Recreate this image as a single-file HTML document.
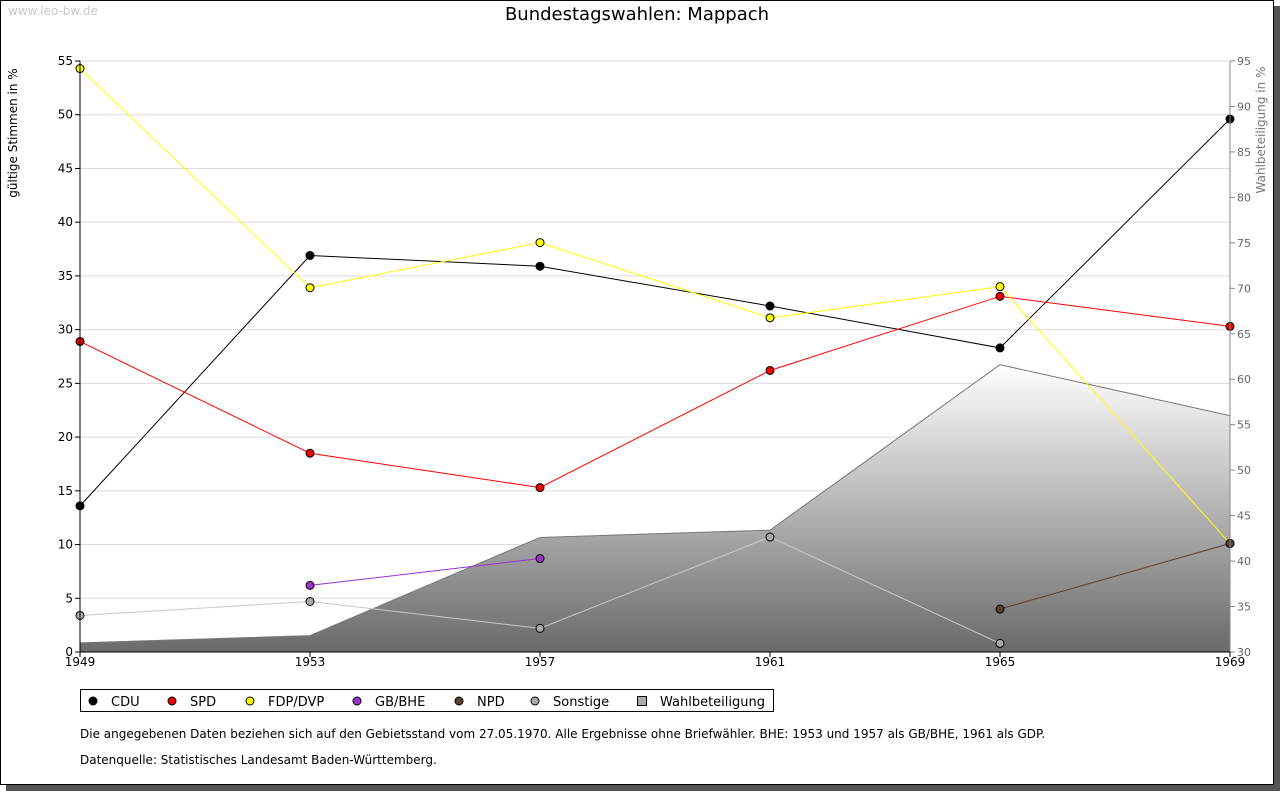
<!DOCTYPE html>
<html><head><meta charset="utf-8"><style>
html,body{margin:0;padding:0;background:#fff;}
body{width:1280px;height:791px;overflow:hidden;font-family:"DejaVu Sans","Liberation Sans",sans-serif;}
</style></head><body>
<svg id="chart" width="1280" height="791" xmlns="http://www.w3.org/2000/svg" font-family="DejaVu Sans, Liberation Sans, sans-serif">
<defs>
<linearGradient id="wg" x1="0" y1="0" x2="0" y2="1">
<stop offset="0" stop-color="#ffffff"/><stop offset="1" stop-color="#6a6a6a"/>
</linearGradient>
</defs>
<rect x="6" y="6" width="1274" height="785" fill="#555"/>
<rect x="0.5" y="0.5" width="1273" height="784" fill="#fff" stroke="#000"/>
<text x="8" y="15" font-size="12" fill="#c8c8c8">www.leo-bw.de</text>
<text x="637" y="20" font-size="18" text-anchor="middle" fill="#000">Bundestagswahlen: Mappach</text>
<text transform="translate(17,133) rotate(-90)" font-size="12" text-anchor="middle">gültige Stimmen in %</text>
<text transform="translate(1265,130) rotate(-90)" font-size="12" text-anchor="middle" fill="#777">Wahlbeteiligung in %</text>
<g id="grid"></g><g id="area"></g><g id="lines"></g><g id="axes"></g>
<g>
<rect x="80.5" y="689.5" width="693" height="22" fill="#fff" stroke="#000"/>
<g id="legend"></g>
</g>
<text x="80" y="738" font-size="12">Die angegebenen Daten beziehen sich auf den Gebietsstand vom 27.05.1970. Alle Ergebnisse ohne Briefwähler. BHE: 1953 und 1957 als GB/BHE, 1961 als GDP.</text>
<text x="80" y="764" font-size="12">Datenquelle: Statistisches Landesamt Baden-Württemberg.</text>
</svg>
<script>
const years=[1949,1953,1957,1961,1965,1969];
const cdu=[13.6,36.9,35.9,32.2,28.3,49.6];
const spd=[28.9,18.5,15.3,26.2,33.1,30.3];
const fdp=[54.3,33.9,38.1,31.1,34.0,10.1];
const gbbhe=[null,6.2,8.7,null,null,null];
const npd=[null,null,null,null,4.0,10.1];
const sonstige=[3.4,4.7,2.2,10.7,0.8,null];
const turnout=[31.0,31.8,42.6,43.4,61.6,56.0];
const leftTicks=[0,5,10,15,20,25,30,35,40,45,50,55];
const rightTicks=[30,35,40,45,50,55,60,65,70,75,80,85,90,95];
const NS="http://www.w3.org/2000/svg";
const X0=80,X1=1230,Y0=652,Y1=61;
const xs=i=>X0+(X1-X0)*i/(years.length-1);
const yl=v=>Y0-(Y0-Y1)*v/55;
const yr=v=>Y0-(Y0-Y1)*(v-30)/65;
function mk(t,a,p){const e=document.createElementNS(NS,t);for(const k in a)e.setAttribute(k,a[k]);p.appendChild(e);return e;}
const grid=document.getElementById('grid'),axes=document.getElementById('axes');
leftTicks.forEach(v=>{
 if(v>0){const g=mk('line',{x1:X0,x2:X1,y1:yl(v),y2:yl(v),stroke:'#dcdcdc'},grid);
 
 }
 mk('line',{x1:X0-5,x2:X0,y1:yl(v),y2:yl(v),stroke:'#000'},axes);
 const t=mk('text',{x:X0-7,y:yl(v)+4,'font-size':12,'text-anchor':'end'},axes);t.textContent=v;
 
 
});
rightTicks.forEach(v=>{
 mk('line',{x1:X1,x2:X1+5,y1:yr(v),y2:yr(v),stroke:'#888'},axes);
 const t=mk('text',{x:X1+7,y:yr(v)+4,'font-size':11,fill:'#666'},axes);t.textContent=v;
 
 
});
mk('line',{x1:X0,x2:X0,y1:Y1,y2:Y0,stroke:'#000'},axes);
mk('line',{x1:X1,x2:X1,y1:Y1,y2:Y0,stroke:'#888'},axes);
mk('line',{x1:X0,x2:X1,y1:Y0,y2:Y0,stroke:'#000'},axes);
years.forEach((yv,i)=>{
 mk('line',{x1:xs(i),x2:xs(i),y1:Y0,y2:Y0+5,stroke:'#000'},axes);
 const t=mk('text',{x:xs(i),y:Y0+14,'font-size':12,'text-anchor':'middle'},axes);t.textContent=yv;
 
 
});
let d='M'+xs(0)+','+Y0;
turnout.forEach((v,i)=>{d+=' L'+xs(i)+','+yr(v);});
d+=' L'+xs(turnout.length-1)+','+Y0+' Z';
const ar=mk('path',{d:d,fill:'url(#wg)',stroke:'#777'},document.getElementById('area'));


const series=[['cdu',cdu,'#000','#000'],['spd',spd,'#ff0000','#ee0000'],['fdp-dvp',fdp,'#ffff00','#ffff00'],['gb-bhe',gbbhe,'#9933cc','#9933cc'],['npd',npd,'#5a4030','#5a4030'],['sonstige',sonstige,'#c8c8c8','#aaaaaa']];
const lg=document.getElementById('lines');
series.forEach(([n,vals,lc,fc])=>{
 let pts=[];vals.forEach((v,i)=>{if(v!=null)pts.push(xs(i)+','+yl(v));});
 const pl=mk('polyline',{points:pts.join(' '),fill:'none',stroke:lc,'stroke-width':1},lg);
 
 
 vals.forEach((v,i)=>{if(v==null)return;
  const c=mk('circle',{cx:xs(i),cy:yl(v),r:4,fill:fc,stroke:'#000','stroke-width':1},lg);
  
  
 });
});
const legendItems=[['CDU','#000',93,'circle'],['SPD','#ee0000',172,'circle'],['FDP/DVP','#ffff00',250,'circle'],['GB/BHE','#9933cc',357,'circle'],['NPD','#5a4030',459,'circle'],['Sonstige','#aaaaaa',535,'circle'],['Wahlbeteiligung','#aaaaaa',642,'rect']];
const L=document.getElementById('legend');
legendItems.forEach(([name,col,x,sh])=>{
 const g=mk('g',{},L);
 
 
 if(sh==='circle')mk('circle',{cx:x,cy:701,r:4,fill:col,stroke:'#000'},g);
 else mk('rect',{x:x-4.5,y:696.5,width:9,height:9,fill:col,stroke:'#000'},g);
 const t=mk('text',{x:x+18,y:706,'font-size':13},g);t.textContent=name;
});
</script>
</body></html>
